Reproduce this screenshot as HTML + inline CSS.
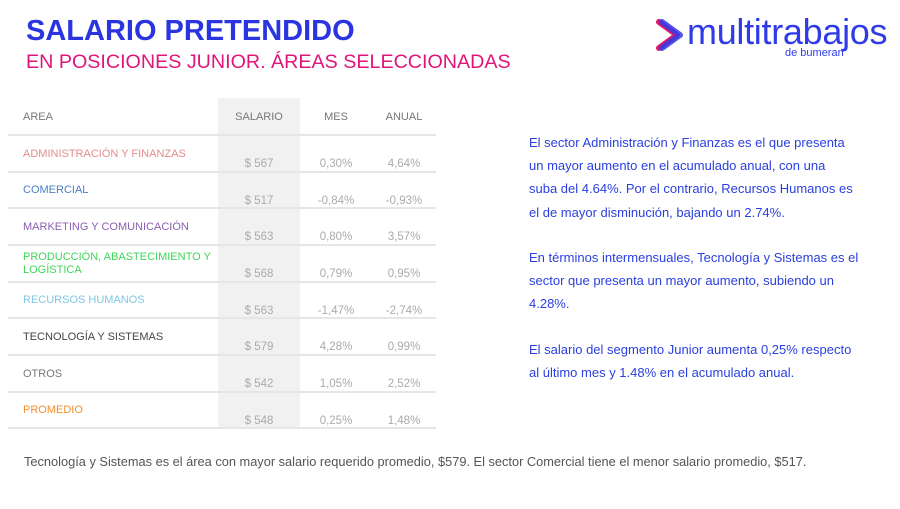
<!DOCTYPE html>
<html><head><meta charset="utf-8"><style>
body{margin:0;width:900px;height:509px;background:#fff;font-family:"Liberation Sans",sans-serif;position:relative;overflow:hidden}
.a{position:absolute;white-space:nowrap}
.t1{left:26px;top:15px;font-size:29px;font-weight:bold;color:#2a35e0}
.t2{left:26px;top:51px;font-size:19.7px;color:#e0157a}
.gray{left:218px;top:98px;width:82px;height:330px;background:#f1f1f1}
.hl{left:8px;width:428px;height:2px;background:#e6e6e6}
.h{font-size:11px;color:#777;top:111px}
.n{font-size:11px;left:23px;line-height:13px}
.v{font-size:11.5px;color:#aaa;text-align:center;width:80px}
.r{left:529px;font-size:13px;color:#2a3fe0;line-height:23.2px}
</style></head><body>
<div class="a t1">SALARIO PRETENDIDO</div>
<div class="a t2">EN POSICIONES JUNIOR. ÁREAS SELECCIONADAS</div>
<svg class="a" style="left:655px;top:18px" width="30" height="34" viewBox="0 0 30 34"><path d="M4 4 L22 17 L4 30" fill="none" stroke="#e01a6a" stroke-width="6" stroke-linecap="round" stroke-linejoin="round"/><path d="M7 4 L25 17 L7 30" fill="none" stroke="#2f3be8" stroke-width="6" stroke-linecap="round" stroke-linejoin="round" opacity=".85"/></svg>
<div class="a" style="left:687px;top:11px;font-size:36px;color:#2f3be8;letter-spacing:-0.3px">multitrabajos</div>
<div class="a" style="left:785px;top:47px;font-size:11px;color:#2f3be8">de bumeran</div>
<div class="a gray"></div>
<div class="a h" style="left:23px">AREA</div>
<div class="a h" style="left:218px;width:82px;text-align:center">SALARIO</div>
<div class="a h" style="left:296px;width:80px;text-align:center">MES</div>
<div class="a h" style="left:364px;width:80px;text-align:center">ANUAL</div>
<div class="a hl" style="top:134px"></div>
<div class="a hl" style="top:171px"></div>
<div class="a hl" style="top:207px"></div>
<div class="a hl" style="top:244px"></div>
<div class="a hl" style="top:281px"></div>
<div class="a hl" style="top:317px"></div>
<div class="a hl" style="top:354px"></div>
<div class="a hl" style="top:391px"></div>
<div class="a hl" style="top:427px"></div>

<div class="a n" style="top:148px;color:#e38c8c">ADMINISTRACIÓN Y FINANZAS</div>
<div class="a v" style="left:219px;top:158px">$ 567</div><div class="a v" style="left:296px;top:158px">0,30%</div><div class="a v" style="left:364px;top:158px">4,64%</div>
<div class="a n" style="top:184px;color:#4a7fc8">COMERCIAL</div>
<div class="a v" style="left:219px;top:195px">$ 517</div><div class="a v" style="left:296px;top:195px">-0,84%</div><div class="a v" style="left:364px;top:195px">-0,93%</div>
<div class="a n" style="top:221px;color:#8a5fb0">MARKETING Y COMUNICACIÓN</div>
<div class="a v" style="left:219px;top:231px">$ 563</div><div class="a v" style="left:296px;top:231px">0,80%</div><div class="a v" style="left:364px;top:231px">3,57%</div>
<div class="a n" style="top:251px;color:#3ed65a">PRODUCCIÓN, ABASTECIMIENTO Y<br>LOGÍSTICA</div>
<div class="a v" style="left:219px;top:268px">$ 568</div><div class="a v" style="left:296px;top:268px">0,79%</div><div class="a v" style="left:364px;top:268px">0,95%</div>
<div class="a n" style="top:294px;color:#80c8e6">RECURSOS HUMANOS</div>
<div class="a v" style="left:219px;top:305px">$ 563</div><div class="a v" style="left:296px;top:305px">-1,47%</div><div class="a v" style="left:364px;top:305px">-2,74%</div>
<div class="a n" style="top:331px;color:#444">TECNOLOGÍA Y SISTEMAS</div>
<div class="a v" style="left:219px;top:341px">$ 579</div><div class="a v" style="left:296px;top:341px">4,28%</div><div class="a v" style="left:364px;top:341px">0,99%</div>
<div class="a n" style="top:368px;color:#777">OTROS</div>
<div class="a v" style="left:219px;top:378px">$ 542</div><div class="a v" style="left:296px;top:378px">1,05%</div><div class="a v" style="left:364px;top:378px">2,52%</div>
<div class="a n" style="top:404px;color:#f5902a">PROMEDIO</div>
<div class="a v" style="left:219px;top:415px">$ 548</div><div class="a v" style="left:296px;top:415px">0,25%</div><div class="a v" style="left:364px;top:415px">1,48%</div>

<div class="a r" style="top:131px">El sector Administración y Finanzas es el que presenta<br>un mayor aumento en el acumulado anual, con una<br>suba del 4.64%. Por el contrario, Recursos Humanos es<br>el de mayor disminución, bajando un 2.74%.</div>
<div class="a r" style="top:246px">En términos intermensuales, Tecnología y Sistemas es el<br>sector que presenta un mayor aumento, subiendo un<br>4.28%.</div>
<div class="a r" style="top:338px">El salario del segmento Junior aumenta 0,25% respecto<br>al último mes y 1.48% en el acumulado anual.</div>
<div class="a" style="left:24px;top:454px;font-size:12.8px;color:#555">Tecnología y Sistemas es el área con mayor salario requerido promedio, $579. El sector Comercial tiene el menor salario promedio, $517.</div>
</body></html>
